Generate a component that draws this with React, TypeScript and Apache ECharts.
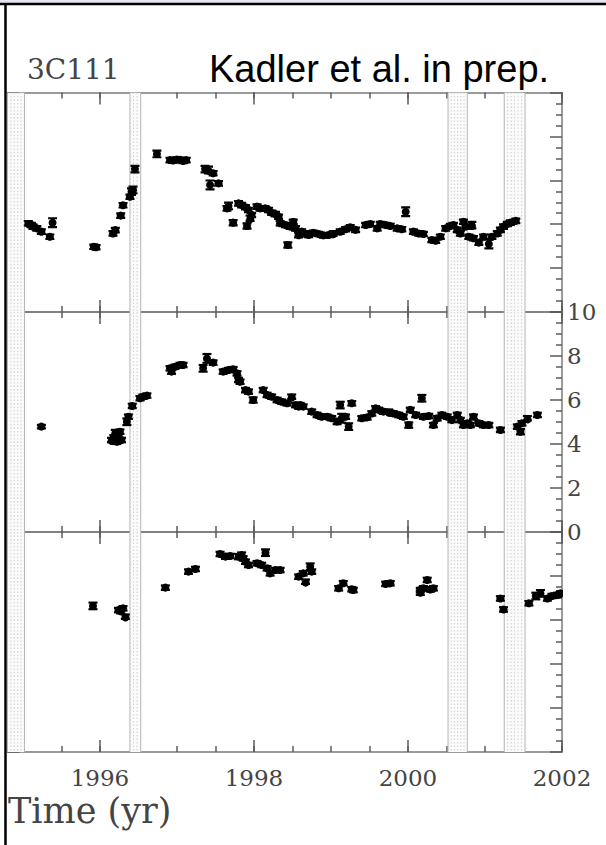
import React, { useEffect, useRef } from "react";
import * as echarts from "echarts";

// ---------- data (year, value, error) ----------
const panelTop: number[][] = [
  [1995.07, 4.04, 0.1], [1995.11, 3.96, 0.1], [1995.13, 3.89, 0.1], [1995.18, 3.81, 0.1],
  [1995.24, 3.66, 0.1], [1995.35, 3.43, 0.1], [1995.385, 4.07, 0.2],
  [1995.92, 2.97, 0.1], [1995.95, 2.95, 0.1],
  [1996.17, 3.58, 0.1], [1996.2, 3.73, 0.1], [1996.27, 4.39, 0.1], [1996.3, 4.86, 0.1],
  [1996.39, 5.25, 0.1], [1996.41, 5.48, 0.15], [1996.43, 5.56, 0.15], [1996.455, 6.51, 0.15],
  [1996.74, 7.2, 0.15],
  [1996.91, 6.92, 0.1], [1996.95, 6.9, 0.1], [1997.0, 6.95, 0.1], [1997.04, 6.93, 0.1],
  [1997.08, 6.88, 0.1], [1997.12, 6.92, 0.1],
  [1997.365, 6.51, 0.15], [1997.41, 6.47, 0.15], [1997.47, 6.32, 0.1], [1997.43, 5.79, 0.2],
  [1997.54, 5.86, 0.1],
  [1997.65, 4.72, 0.1], [1997.67, 4.83, 0.15], [1997.73, 4.07, 0.12], [1997.8, 4.95, 0.1],
  [1997.84, 4.87, 0.1], [1997.89, 4.77, 0.1], [1997.93, 4.65, 0.1], [1997.97, 4.42, 0.1],
  [1997.95, 4.27, 0.12], [1997.91, 3.92, 0.12],
  [1998.04, 4.8, 0.1], [1998.08, 4.72, 0.1], [1998.145, 4.72, 0.1], [1998.19, 4.65, 0.1],
  [1998.23, 4.52, 0.1], [1998.28, 4.46, 0.1], [1998.32, 4.34, 0.1],
  [1998.34, 4.04, 0.1], [1998.41, 3.96, 0.1], [1998.47, 3.89, 0.1], [1998.51, 4.11, 0.1],
  [1998.54, 3.81, 0.1], [1998.58, 3.5, 0.1], [1998.44, 3.05, 0.12],
  [1998.62, 3.66, 0.1], [1998.67, 3.58, 0.1], [1998.71, 3.51, 0.1], [1998.77, 3.61, 0.1],
  [1998.84, 3.55, 0.1], [1998.9, 3.49, 0.1], [1998.97, 3.51, 0.1], [1999.03, 3.58, 0.1],
  [1999.12, 3.66, 0.1], [1999.19, 3.77, 0.1], [1999.25, 3.86, 0.1], [1999.32, 3.74, 0.1],
  [1999.45, 3.96, 0.1], [1999.51, 4.01, 0.1], [1999.6, 3.81, 0.1], [1999.64, 4.01, 0.1],
  [1999.71, 3.96, 0.1], [1999.77, 3.92, 0.1], [1999.86, 3.81, 0.1], [1999.92, 3.77, 0.1],
  [1999.97, 4.57, 0.2], [2000.07, 3.66, 0.1], [2000.14, 3.58, 0.1], [2000.2, 3.55, 0.1],
  [2000.31, 3.28, 0.1], [2000.36, 3.25, 0.1], [2000.42, 3.43, 0.1], [2000.49, 3.81, 0.1],
  [2000.55, 3.92, 0.1], [2000.59, 3.96, 0.1], [2000.64, 3.74, 0.1], [2000.68, 3.58, 0.1],
  [2000.72, 4.11, 0.1], [2000.75, 3.89, 0.1], [2000.79, 3.43, 0.1], [2000.83, 3.96, 0.15],
  [2000.85, 3.36, 0.1], [2000.92, 3.16, 0.1], [2000.98, 3.43, 0.1], [2001.05, 3.1, 0.2],
  [2001.09, 3.43, 0.1], [2001.16, 3.58, 0.1], [2001.2, 3.74, 0.1], [2001.24, 3.89, 0.1],
  [2001.29, 4.01, 0.1], [2001.33, 4.07, 0.1], [2001.4, 4.15, 0.1],
];

const panelMid: number[][] = [
  [1995.24, 4.79, 0.08],
  [1996.15, 4.18, 0.1], [1996.2, 4.49, 0.15], [1996.24, 4.33, 0.1], [1996.28, 4.18, 0.1],
  [1996.22, 4.1, 0.1], [1996.26, 4.56, 0.1], [1996.18, 4.3, 0.1],
  [1996.35, 5.01, 0.15], [1996.37, 5.24, 0.1], [1996.42, 5.73, 0.1], [1996.52, 6.08, 0.1],
  [1996.56, 6.15, 0.1], [1996.61, 6.2, 0.1],
  [1996.91, 7.44, 0.1], [1996.93, 7.29, 0.1], [1996.975, 7.51, 0.1], [1997.04, 7.59, 0.1],
  [1997.08, 7.59, 0.1],
  [1997.34, 7.44, 0.15], [1997.39, 7.89, 0.2], [1997.47, 7.7, 0.1],
  [1997.6, 7.29, 0.1], [1997.67, 7.36, 0.1], [1997.73, 7.4, 0.1], [1997.78, 7.21, 0.1],
  [1997.8, 6.91, 0.1], [1997.82, 6.83, 0.1],
  [1997.89, 6.45, 0.1], [1997.93, 6.38, 0.1], [1997.99, 6.0, 0.12],
  [1998.12, 6.45, 0.1], [1998.17, 6.23, 0.1], [1998.23, 6.15, 0.1], [1998.3, 6.0, 0.1],
  [1998.36, 5.92, 0.1], [1998.43, 5.85, 0.1], [1998.49, 6.15, 0.1], [1998.54, 5.77, 0.1],
  [1998.58, 5.7, 0.1],
  [1998.6, 5.77, 0.1], [1998.64, 5.7, 0.1], [1998.75, 5.47, 0.1], [1998.82, 5.32, 0.1],
  [1998.88, 5.24, 0.1], [1998.95, 5.24, 0.1], [1999.01, 5.17, 0.1], [1999.08, 5.02, 0.12],
  [1999.12, 5.77, 0.15], [1999.14, 5.17, 0.2], [1999.19, 5.24, 0.1], [1999.23, 4.79, 0.15],
  [1999.27, 5.85, 0.1], [1999.4, 5.17, 0.1], [1999.47, 5.21, 0.1], [1999.53, 5.39, 0.1],
  [1999.58, 5.62, 0.1], [1999.62, 5.55, 0.1], [1999.68, 5.47, 0.1], [1999.75, 5.47, 0.1],
  [1999.81, 5.39, 0.1], [1999.88, 5.32, 0.1], [1999.94, 5.24, 0.1], [2000.01, 4.86, 0.12],
  [2000.03, 5.55, 0.1], [2000.1, 5.32, 0.1], [2000.18, 6.08, 0.15], [2000.2, 5.24, 0.1],
  [2000.27, 5.27, 0.1], [2000.33, 4.86, 0.1], [2000.38, 5.17, 0.1], [2000.44, 5.32, 0.1],
  [2000.51, 5.24, 0.1], [2000.57, 5.09, 0.1], [2000.64, 5.32, 0.1], [2000.68, 5.09, 0.1],
  [2000.72, 4.86, 0.1], [2000.77, 4.94, 0.1], [2000.81, 4.86, 0.1], [2000.85, 5.24, 0.1],
  [2000.92, 4.94, 0.1], [2000.98, 4.86, 0.1], [2001.05, 4.86, 0.1], [2001.2, 4.64, 0.1],
  [2001.42, 4.79, 0.1], [2001.46, 4.56, 0.12], [2001.48, 4.94, 0.1], [2001.55, 5.17, 0.1],
  [2001.68, 5.32, 0.1],
];

const panelBot: number[][] = [
  [1995.91, 6.64, 0.15], [1996.24, 6.45, 0.1], [1996.3, 6.53, 0.1], [1996.33, 6.15, 0.1],
  [1996.27, 6.4, 0.1],
  [1996.85, 7.47, 0.1], [1997.15, 8.2, 0.1], [1997.24, 8.32, 0.1],
  [1997.56, 9.0, 0.1], [1997.63, 8.88, 0.1], [1997.69, 8.91, 0.1], [1997.8, 8.88, 0.12],
  [1997.84, 8.95, 0.12], [1997.89, 8.65, 0.1], [1997.93, 8.5, 0.1], [1997.86, 8.8, 0.1],
  [1998.15, 9.06, 0.15], [1998.04, 8.58, 0.1], [1998.1, 8.5, 0.1], [1998.17, 8.35, 0.1],
  [1998.21, 8.12, 0.1], [1998.28, 8.27, 0.1], [1998.34, 8.27, 0.1],
  [1998.58, 7.97, 0.1], [1998.64, 8.12, 0.1], [1998.67, 7.74, 0.1], [1998.73, 8.42, 0.15],
  [1998.75, 8.2, 0.1],
  [1999.1, 7.44, 0.1], [1999.16, 7.67, 0.1], [1999.29, 7.36, 0.1], [1999.27, 7.4, 0.1],
  [1999.71, 7.64, 0.1], [1999.77, 7.67, 0.1],
  [2000.16, 7.36, 0.1], [2000.16, 7.24, 0.1], [2000.2, 7.44, 0.1], [2000.25, 7.82, 0.1],
  [2000.29, 7.39, 0.1], [2000.33, 7.44, 0.1],
  [2001.2, 6.98, 0.1], [2001.24, 6.48, 0.1],
  [2001.57, 6.76, 0.1], [2001.66, 7.09, 0.15], [2001.72, 7.21, 0.15], [2001.81, 6.98, 0.1],
  [2001.87, 7.09, 0.1], [2001.94, 7.14, 0.1], [2001.98, 7.21, 0.1],
];

// gaps (start year, end year)
const gapBands: number[][] = [
  [1994.8, 1995.02],
  [1996.39, 1996.53],
  [2000.52, 2000.77],
  [2001.25, 2001.52],
];

const majorYears = [1996, 1998, 2000, 2002];
const minorYears = [1995, 1995.5, 1996, 1996.5, 1997, 1997.5, 1998, 1998.5, 1999, 1999.5, 2000, 2000.5, 2001, 2001.5, 2002];
const yearMin = 1994.8;
const yearMax = 2002;
const yMin = 0;
const yMax = 10;

const SOURCE = "3C111";
const NOTE = "Kadler et al. in prep.";
const XTITLE = "Time (yr)";

const FRAME = "#7a7a7a";
const TICK = "#5a5a5a";
const TEXT = "#444";
const SERIF = "'DejaVu Serif', serif";

export default function App() {
  const ref = useRef<HTMLDivElement>(null);

  useEffect(() => {
    if (!ref.current) return;
    const chart = echarts.init(ref.current, undefined, { renderer: "svg" });

    const grids = [
      { left: 7.5, width: 554.5, top: 92.5, height: 219.5 },
      { left: 7.5, width: 554.5, top: 312, height: 220 },
      { left: 7.5, width: 554.5, top: 532, height: 220 },
    ];

    const xAxes: any[] = [];
    const yAxes: any[] = [];
    grids.forEach((_, g) => {
      const showLabels = g === 2;
      (["bottom", "top"] as const).forEach((pos) => {
        xAxes.push({
          type: "value", gridIndex: g, min: yearMin, max: yearMax, position: pos,
          axisLine: { show: true, lineStyle: { color: FRAME, width: 1.5 } },
          axisTick: { show: true, inside: true, length: 12, customValues: majorYears, lineStyle: { color: TICK, width: 1.5 } },
          axisLabel: pos === "bottom" && showLabels
            ? { show: true, customValues: majorYears, formatter: (v: number) => String(Math.round(v)), fontFamily: SERIF, fontSize: 23, color: TEXT, margin: 14 }
            : { show: false },
          splitLine: { show: false },
        });
        xAxes.push({
          type: "value", gridIndex: g, min: yearMin, max: yearMax, position: pos,
          axisLine: { show: false },
          axisTick: { show: true, inside: true, length: 6, customValues: minorYears, lineStyle: { color: TICK, width: 1.5 } },
          axisLabel: { show: false },
          splitLine: { show: false },
        });
      });
      (["left", "right"] as const).forEach((pos) => {
        yAxes.push({
          type: "value", gridIndex: g, min: yMin, max: yMax, interval: 2, position: pos,
          axisLine: { show: true, lineStyle: { color: FRAME, width: 1.5 } },
          axisTick: { show: true, inside: true, length: 12, lineStyle: { color: TICK, width: 1.5 } },
          minorTick: { show: true, splitNumber: 4, length: 6, lineStyle: { color: TICK, width: 1.5 } },
          axisLabel: pos === "right" && g === 1
            ? { show: true, fontFamily: SERIF, fontSize: 23, color: TEXT, margin: 5 }
            : { show: false },
          splitLine: { show: false },
        });
      });
    });

    const bandRender = (params: any, api: any) => {
      const s = api.coord([api.value(0), yMax]);
      const e = api.coord([api.value(1), yMin]);
      const x0 = s[0], x1 = e[0], y0 = s[1], y1 = e[1];
      const children: any[] = [
        { type: "rect", shape: { x: x0, y: y0, width: x1 - x0, height: y1 - y0 }, style: { fill: "#fbfbfb" } },
      ];
      const n = Math.max(1, Math.round((x1 - x0) / 3.5));
      for (let k = 1; k < n; k++) {
        const x = x0 + ((x1 - x0) * k) / n;
        children.push({ type: "line", shape: { x1: x, y1: y0, x2: x, y2: y1 }, style: { stroke: "#cfcfcf", lineWidth: 1, lineDash: [1.5, 2] } });
      }
      children.push({ type: "line", shape: { x1: x0, y1: y0, x2: x0, y2: y1 }, style: { stroke: "#b4b4b4", lineWidth: 1 } });
      children.push({ type: "line", shape: { x1: x1, y1: y0, x2: x1, y2: y1 }, style: { stroke: "#b4b4b4", lineWidth: 1 } });
      return { type: "group", children };
    };

    const pointRender = (params: any, api: any) => {
      const x = api.value(0), y = api.value(1), err = api.value(2);
      const p = api.coord([x, y]);
      const t = api.coord([x, y + err]);
      const b = api.coord([x, y - err]);
      const cap = 4.5;
      return {
        type: "group",
        children: [
          { type: "line", shape: { x1: p[0], y1: t[1], x2: p[0], y2: b[1] }, style: { stroke: "#000", lineWidth: 2.2 } },
          { type: "line", shape: { x1: p[0] - cap, y1: t[1], x2: p[0] + cap, y2: t[1] }, style: { stroke: "#000", lineWidth: 2.2 } },
          { type: "line", shape: { x1: p[0] - cap, y1: b[1], x2: p[0] + cap, y2: b[1] }, style: { stroke: "#000", lineWidth: 2.2 } },
          { type: "circle", shape: { cx: p[0], cy: p[1], r: 4 }, style: { fill: "#000" } },
        ],
      };
    };

    const panels = [panelTop, panelMid, panelBot];
    const series: any[] = [];
    panels.forEach((data, g) => {
      series.push({
        type: "custom", xAxisIndex: g * 4, yAxisIndex: g * 2, renderItem: bandRender,
        data: gapBands, encode: { x: [0, 1] }, clip: true, z: 1, silent: true,
      });
      series.push({
        type: "custom", xAxisIndex: g * 4, yAxisIndex: g * 2, renderItem: pointRender,
        data, encode: { x: 0, y: 1 }, clip: true, z: 5, silent: true,
      });
    });

    chart.setOption({
      animation: false,
      backgroundColor: "#ffffff",
      grid: grids,
      xAxis: xAxes,
      yAxis: yAxes,
      series,
      graphic: [
        { type: "rect", left: 0, top: 0, shape: { width: 606, height: 3 }, style: { fill: "#e4e6ee" }, z: 100 },
        { type: "line", shape: { x1: 0, y1: 4, x2: 606, y2: 4 }, style: { stroke: "#000", lineWidth: 2.5 }, z: 100 },
        { type: "line", shape: { x1: 5.5, y1: 3, x2: 5.5, y2: 845 }, style: { stroke: "#000", lineWidth: 2.5 }, z: 100 },
        { type: "text", left: 27, top: 55, style: { text: SOURCE, font: "28px 'DejaVu Serif'", fill: TEXT }, z: 100 },
        { type: "text", left: 209, top: 50, style: { text: NOTE, font: "38px 'Liberation Sans'", fill: "#000" }, z: 100 },
        { type: "text", left: 8, top: 793, style: { text: XTITLE, font: "35px 'DejaVu Serif'", fill: TEXT }, z: 100 },
      ],
    });

    return () => chart.dispose();
  }, []);

  return <div ref={ref} style={{ position: "fixed", left: 0, top: 0, width: 606, height: 845, background: "#fff" }} />;
}
